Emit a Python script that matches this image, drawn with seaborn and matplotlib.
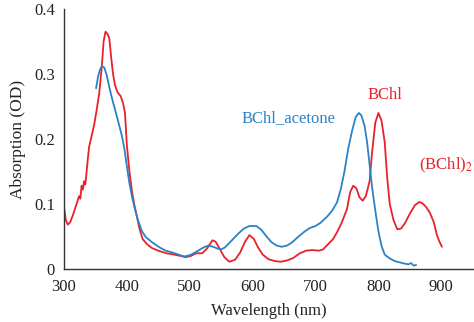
import matplotlib
matplotlib.use("Agg")
import matplotlib.pyplot as plt
import seaborn as sns
import pandas as pd

# BChl (red) spectrum
bchl_wl = [300, 303, 306, 310, 315, 320, 324, 326, 328, 330, 332, 334, 336, 338, 340, 344, 348, 352, 356,
           360, 363, 366, 369, 372, 375, 378, 381, 385, 390, 394, 397, 400, 404, 408, 412, 416, 420, 425,
           432, 440, 450, 463, 475, 485, 494, 502, 510, 520, 528, 536, 541, 547, 555, 563, 572, 580, 588,
           595, 602, 608, 616, 625, 635, 645, 655, 665, 675, 685, 695, 705, 712, 720, 728, 734, 742, 750,
           755, 760, 765, 770, 775, 780, 786, 790, 795, 800, 805, 810, 814, 818, 824, 830, 836, 842, 850,
           858, 865, 870, 876, 882, 888, 893, 897, 901]
bchl_abs = [0.095, 0.075, 0.068, 0.072, 0.085, 0.100, 0.112, 0.108, 0.128, 0.122, 0.135, 0.130, 0.150,
            0.170, 0.188, 0.205, 0.222, 0.245, 0.270, 0.310, 0.350, 0.365, 0.362, 0.355, 0.326, 0.300,
            0.283, 0.272, 0.266, 0.255, 0.240, 0.190, 0.150, 0.120, 0.098, 0.080, 0.062, 0.046, 0.038,
            0.032, 0.028, 0.024, 0.022, 0.020, 0.018, 0.020, 0.024, 0.024, 0.032, 0.044, 0.042, 0.032,
            0.018, 0.011, 0.014, 0.025, 0.042, 0.052, 0.046, 0.034, 0.022, 0.015, 0.012, 0.011, 0.013,
            0.017, 0.024, 0.028, 0.029, 0.028, 0.030, 0.038, 0.046, 0.056, 0.072, 0.092, 0.118, 0.128,
            0.124, 0.110, 0.105, 0.112, 0.135, 0.180, 0.225, 0.240, 0.228, 0.195, 0.140, 0.100, 0.075,
            0.061, 0.062, 0.070, 0.085, 0.098, 0.103, 0.101, 0.095, 0.086, 0.072, 0.052, 0.042, 0.034]

# BChl_acetone (blue) spectrum
acet_wl = [351, 354, 357, 360, 364, 368, 372, 377, 382, 387, 392, 396, 400, 404, 408, 412, 418, 424, 430,
           440, 452, 462, 473, 482, 491, 500, 508, 515, 522, 530, 537, 545, 550, 556, 563, 570, 578, 586,
           595, 606, 614, 622, 630, 638, 646, 655, 663, 672, 682, 691, 700, 708, 718, 726, 734, 740, 746,
           752, 758, 764, 769, 773, 778, 782, 786, 790, 795, 800, 805, 810, 818, 826, 834, 842, 848, 852,
           856, 860]
acet_abs = [0.278, 0.295, 0.306, 0.312, 0.310, 0.298, 0.280, 0.260, 0.242, 0.224, 0.205, 0.185, 0.158,
            0.132, 0.112, 0.095, 0.074, 0.058, 0.049, 0.041, 0.033, 0.028, 0.025, 0.022, 0.019, 0.021,
            0.025, 0.029, 0.033, 0.036, 0.034, 0.031, 0.030, 0.033, 0.040, 0.047, 0.055, 0.062, 0.066,
            0.066, 0.060, 0.050, 0.041, 0.036, 0.034, 0.036, 0.041, 0.049, 0.057, 0.063, 0.066, 0.071,
            0.080, 0.089, 0.102, 0.122, 0.150, 0.185, 0.212, 0.234, 0.240, 0.236, 0.220, 0.195, 0.160,
            0.125, 0.090, 0.058, 0.035, 0.022, 0.016, 0.012, 0.010, 0.008, 0.007, 0.009, 0.005, 0.006]

x_ticks = [300, 400, 500, 600, 700, 800, 900]
y_ticks = [0, 0.1, 0.2, 0.3, 0.4]
y_tick_labels = ["0", "0.1", "0.2", "0.3", "0.4"]

RED = "#e8212b"
BLUE = "#2b82c6"

sns.set_style("white")
plt.rcParams["font.family"] = ["Liberation Serif", "DejaVu Serif"]
plt.rcParams["mathtext.fontset"] = "stix"

df_b = pd.DataFrame({"wl": bchl_wl, "abs": bchl_abs})
df_a = pd.DataFrame({"wl": acet_wl, "abs": acet_abs})

fig = plt.figure(figsize=(4.74, 3.22), dpi=100)
ax = fig.add_axes([0.135, 0.165, 0.865, 0.807])

sns.lineplot(data=df_b, x="wl", y="abs", ax=ax, color=RED, lw=1.3, estimator=None, sort=False)
sns.lineplot(data=df_a, x="wl", y="abs", ax=ax, color=BLUE, lw=1.3, estimator=None, sort=False)

ax.set_xlim(300, 952)
ax.set_ylim(0, 0.4)
ax.set_xticks(x_ticks)
ax.set_yticks(y_ticks)
ax.set_yticklabels(y_tick_labels)
ax.set_xlabel("Wavelength (nm)", fontsize=12, color="#222222", labelpad=6)
ax.set_ylabel("Absorption (OD)", fontsize=12.5, color="#222222", labelpad=6)
ax.tick_params(axis="both", direction="inout", length=6, width=1, colors="#333333",
               labelsize=12, labelcolor="#222222")
ax.tick_params(axis="x", pad=4)
for s in ["top", "right"]:
    ax.spines[s].set_visible(False)
for s in ["left", "bottom"]:
    ax.spines[s].set_color("#333333")
    ax.spines[s].set_linewidth(1)

ax.text(583, 0.232, "BChl_acetone", color=BLUE, fontsize=12, va="center", ha="left")
ax.text(811, 0.268, "BChl", color=RED, fontsize=12, va="center", ha="center")
ax.text(864, 0.16, "(BChl)$_2$", color=RED, fontsize=12, va="center", ha="left")

fig.savefig("out.png", dpi=100)
